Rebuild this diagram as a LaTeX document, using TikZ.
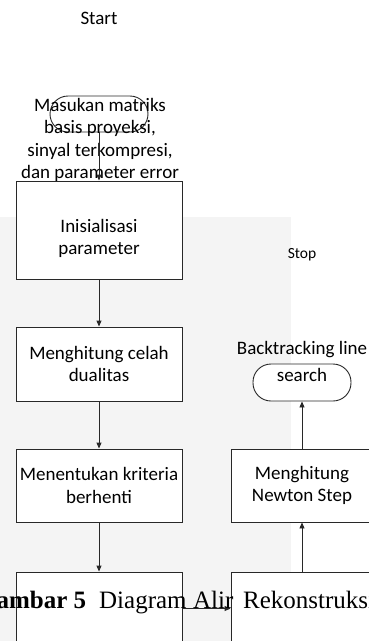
\documentclass[tikz,border=0pt]{standalone}
\usepackage{xcolor,tikz,fontspec}
\setmainfont{Carlito}
\newfontfamily\capfont{Liberation Serif}
\usetikzlibrary{arrows.meta,positioning}
\definecolor{ink}{RGB}{40,40,40}
\definecolor{bgshade}{RGB}{244,244,244}
\tikzset{
  arr/.style={-{Triangle[length=6pt,width=5pt]},line width=0.9pt,draw=ink},
  proc/.style={draw=ink,line width=0.9pt,fill=white,minimum width=166pt,minimum height=73pt,inner sep=0pt,align=center,font=\fontsize{19}{22.5}\selectfont},
  term/.style={draw=ink,line width=0.9pt,rounded corners=18pt,minimum width=98pt,minimum height=36pt,inner sep=0pt},
  txt/.style={font=\fontsize{19}{22.5}\selectfont,align=center,inner sep=0pt}
}
\begin{document}
\begin{tikzpicture}[x=1pt,y=-1pt]
  \useasboundingbox (0,0) rectangle (369,641);
  \fill[bgshade] (0,217) rectangle (291,641);

  % left column
  \node[txt] (startlab) at (99,18) {Start};
  \node[term] (start) at (99,114) {};
  \node[txt] (input) at (100,140) {Masukan matriks\\basis proyeksi,\\sinyal terkompresi,\\dan parameter error};
  \node[proc,minimum height=98pt,label={[txt,yshift=-8.5pt]center:{Inisialisasi\\parameter}}] (init) at (99,230) {};
  \node[proc,minimum height=74pt] (gap) at (99,364) {Menghitung celah\\dualitas};
  \node[proc] (crit) at (99,485.5) {Menentukan kriteria\\berhenti};
  \node[proc] (blankL) at (99,608.5) {};

  % right column
  \node[proc,minimum width=142pt] (blankR) at (302,608.5) {};
  \node[proc,minimum width=142pt] (newton) at (302,485.5) {Menghitung\\Newton Step};
  \node[term,minimum height=37pt,fill=white] (search) at (302,382.5) {};
  \node[txt,font=\fontsize{19}{27}\selectfont] (btls) at (302,361) {Backtracking line\\search};
  \node[txt,font=\fontsize{15.5}{18}\selectfont] (stoplab) at (302,255) {Stop};

  \draw[arr] (start) -- (init);
  \draw[arr] (init) -- (gap);
  \draw[arr] (gap) -- (crit);
  \draw[arr] (crit) -- (blankL);
  \draw[arr] (blankL) -- (blankR);
  \draw[arr] (blankR) -- (newton);
  \draw[arr] (newton) -- (search);

  \node[anchor=base west,inner sep=0pt,font=\capfont\fontsize{25}{30}\selectfont] (caption) at (-23,608)
    {\makebox[122pt][l]{\bfseries Gambar 5}\makebox[94pt][l]{Diagram}\makebox[50pt][l]{Alir}Rekonstruksi};
\end{tikzpicture}
\end{document}
